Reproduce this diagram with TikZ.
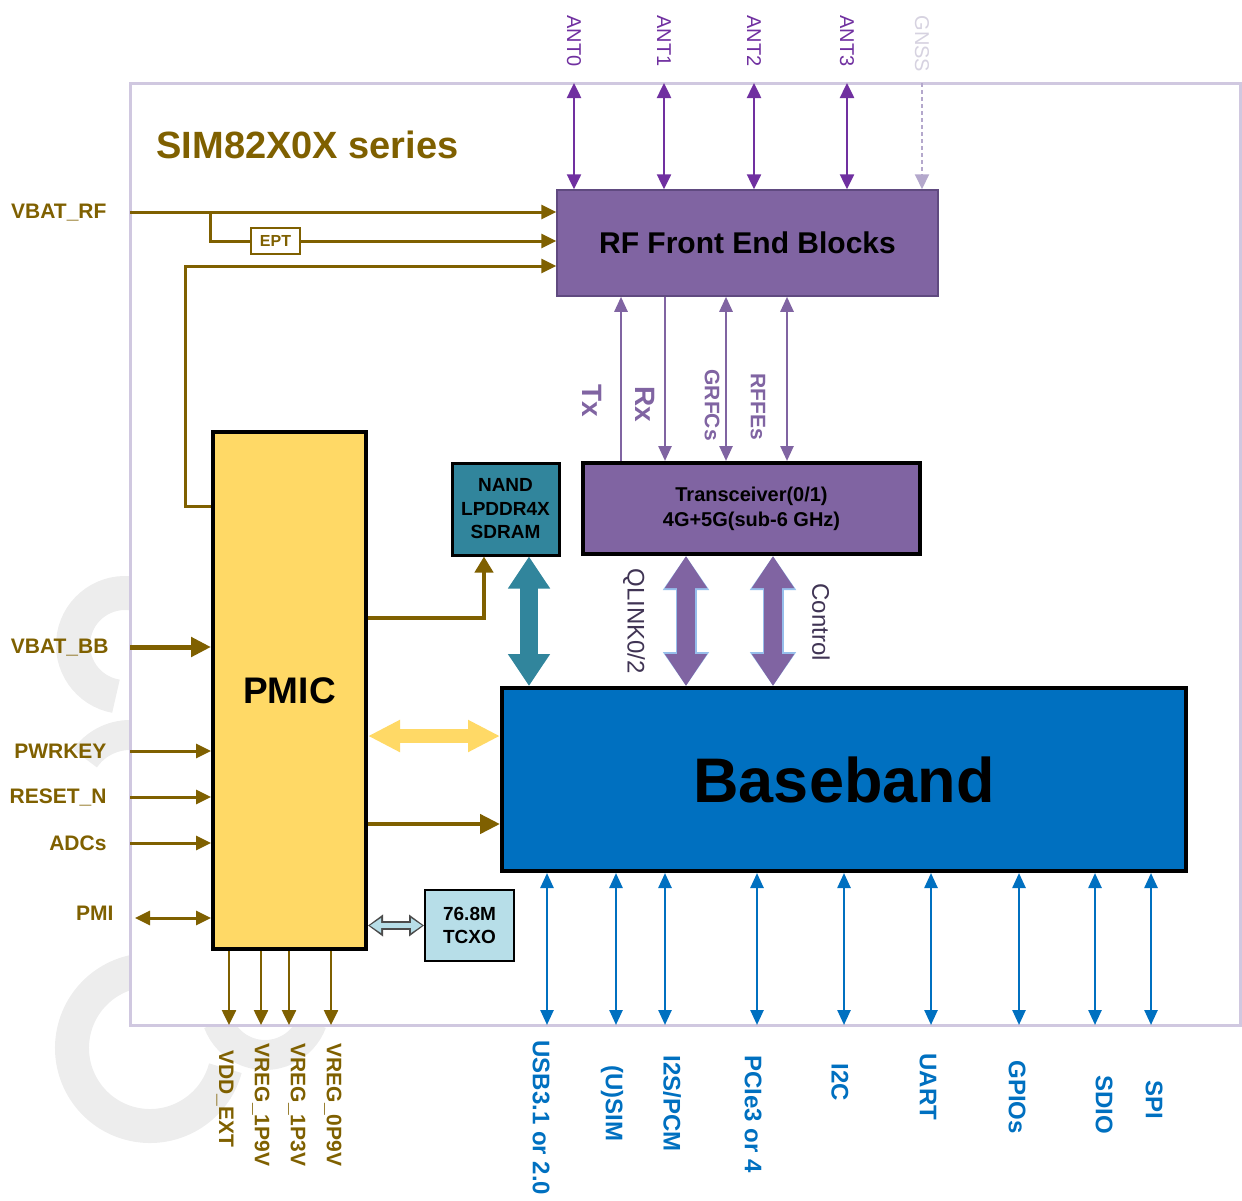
\documentclass[tikz,border=0pt]{standalone}
\usepackage{fontspec}
\setmainfont{Liberation Sans}
\usetikzlibrary{arrows.meta}

\definecolor{simbrown}{RGB}{127,96,0}
\definecolor{rfpurple}{RGB}{128,100,162}
\definecolor{rfedge}{RGB}{96,74,128}
\definecolor{antpurple}{RGB}{112,48,160}
\definecolor{gnssc}{RGB}{180,168,204}
\definecolor{gnsstext}{RGB}{214,210,224}
\definecolor{bbblue}{RGB}{0,112,192}
\definecolor{memteal}{RGB}{49,133,156}
\definecolor{pmicyellow}{RGB}{255,217,102}
\definecolor{tcxoblue}{RGB}{183,222,232}
\definecolor{framec}{RGB}{208,200,224}
\definecolor{linktext}{RGB}{64,52,84}
\definecolor{glow}{RGB}{150,190,235}

\tikzset{
  wmark/.style={draw=black!7, line width=34pt},
  chipframe/.style={draw=framec, line width=3pt, fill=white, inner sep=0pt},
  blk/.style={draw=black, line width=4pt, inner sep=0pt, align=center},
  pinlabel/.style={anchor=east, text=simbrown, font=\fontsize{21}{25}\selectfont\bfseries},
  outlabel/.style={rotate=-90, anchor=west, text=simbrown, font=\fontsize{21}{25}\selectfont\bfseries},
  iolabel/.style={rotate=-90, anchor=west, text=bbblue, font=\fontsize{24}{28}\selectfont\bfseries},
  antlabel/.style={rotate=-90, anchor=west, text=antpurple, font=\fontsize{20}{24}\selectfont},
  rflabel/.style={rotate=-90, anchor=west, text=rfpurple, font=\fontsize{21}{25}\selectfont\bfseries},
  linklabel/.style={rotate=-90, anchor=west, text=linktext, font=\fontsize{24}{28}\selectfont},
  antline/.style={draw=antpurple, line width=2.5pt, >={Triangle[length=15pt,width=14pt]}, <->},
  gnssline/.style={draw=gnssc, line width=2pt, dash pattern=on 4pt off 3pt, >={Triangle[length=15pt,width=14pt]}, ->},
  pwrline/.style={draw=simbrown, line width=3pt, >={Triangle[length=15pt,width=14pt]}, ->},
  pwrthick/.style={draw=simbrown, line width=4.5pt, >={Triangle[length=20pt,width=19pt]}, ->},
  rfline/.style={draw=rfpurple, line width=2.5pt, >={Triangle[length=15pt,width=13pt]}},
  ioline/.style={draw=bbblue, line width=2.5pt, >={Triangle[length=15pt,width=13pt]}, <->},
  fatarrow/.style={line width=18pt, >={Triangle[length=32pt,width=40pt]}, <->},
}

\begin{document}
\begin{tikzpicture}[x=1pt,y=-1pt]
\useasboundingbox (0,0) rectangle (1242,1200);

% logo behind the frame
\draw[wmark] (125,645) ++(100:52) arc[start angle=100, end angle=280, radius=52];
\draw[wmark, line width=30pt] (130,790) ++(215:55) arc[start angle=215, end angle=270, radius=55];
\draw[wmark] (150,1048) ++(15:78) arc[start angle=15, end angle=280, radius=78];
\draw[wmark, line width=30pt] (265,1005) ++(20:50) arc[start angle=20, end angle=160, radius=50];

\node[chipframe, minimum width=1110pt, minimum height=942pt] (chip) at (685,554) {};
\node[anchor=west, text=simbrown, font=\fontsize{38}{44}\selectfont\bfseries] (title) at (153,145) {SIM82X0X series};

% blocks
\node[blk, draw=rfedge, line width=1.5pt, fill=rfpurple, minimum width=381pt, minimum height=106pt,
      font=\fontsize{30}{34}\selectfont\bfseries] (rf) at (747.5,243) {RF Front End Blocks};
\node[blk, fill=rfpurple, minimum width=337pt, minimum height=91pt,
      font=\fontsize{20}{25}\selectfont\bfseries] (trx) at (751.5,508.5) {Transceiver(0/1)\\4G+5G(sub-6 GHz)};
\node[blk, line width=3pt, fill=memteal, minimum width=107pt, minimum height=92pt,
      font=\fontsize{19}{23.5}\selectfont\bfseries] (nand) at (505.5,509) {NAND\\LPDDR4X\\SDRAM};
\node[blk, fill=pmicyellow, minimum width=153pt, minimum height=517pt,
      font=\fontsize{37}{42}\selectfont\bfseries] (pmic) at (289.5,690.5) {PMIC};
\node[blk, fill=bbblue, minimum width=684pt, minimum height=183pt,
      font=\fontsize{63}{70}\selectfont\bfseries] (bb) at (844,779.5) {Baseband};
\node[blk, line width=2pt, fill=tcxoblue, minimum width=89pt, minimum height=71pt,
      font=\fontsize{19}{23}\selectfont\bfseries] (tcxo) at (469.5,925.5) {76.8M\\TCXO};
\node[blk, draw=simbrown, line width=1.5pt, fill=white, minimum width=49pt, minimum height=26pt,
      text=simbrown, font=\fontsize{16}{18}\selectfont\bfseries] (ept) at (275.5,241) {EPT};

% antennas
\foreach \x/\n in {574/0,664/1,754/2,847/3}{
  \coordinate (ant\n) at (\x,83);
  \draw[antline] (ant\n) -- (ant\n |- rf.north);
  \node[antlabel] (lant\n) at (\x,12) {ANT\n};
}
\coordinate (gnss) at (922,83);
\draw[gnssline] (gnss) -- (gnss |- rf.north);
\node[antlabel, text=gnsstext] (lgnss) at (922,12) {GNSS};

% RF supply
\node[pinlabel] (lvbatrf) at (110,213) {VBAT\_RF};
\coordinate (vbatrf) at (130,212);
\coordinate (split) at (210,212);
\draw[pwrline] (vbatrf) -- (vbatrf -| rf.west);
\draw[pwrline, -] (split) |- (ept.west);
\draw[pwrline] (ept.east) -- (ept -| rf.west);
\coordinate (bend) at (185,266);
\draw[pwrline] ([yshift=-76pt]pmic.north west) -| (bend) -- (bend -| rf.west);

% RF <-> transceiver
\coordinate (tx) at (621,0);
\coordinate (rx) at (665,0);
\coordinate (grfc) at (726,0);
\coordinate (rffe) at (787,0);
\draw[rfline, ->] (tx |- trx.north) -- (tx |- rf.south);
\draw[rfline, ->] (rx |- rf.south) -- (rx |- trx.north);
\draw[rfline, <->] (grfc |- rf.south) -- (grfc |- trx.north);
\draw[rfline, <->] (rffe |- rf.south) -- (rffe |- trx.north);
\node[rflabel, font=\fontsize{28}{32}\selectfont\bfseries] (ltx) at (592,381) {Tx};
\node[rflabel, font=\fontsize{28}{32}\selectfont\bfseries] (lrx) at (645,383) {Rx};
\node[rflabel] (lgrfc) at (712,366) {GRFCs};
\node[rflabel] (lrffe) at (758,370) {RFFEs};

% wide links to baseband
\coordinate (memlink) at (529,0);
\coordinate (qlink) at (686,0);
\coordinate (ctrl) at (773,0);
\draw[fatarrow, draw=memteal, fill=memteal] (memlink |- nand.south) -- (memlink |- bb.north);
\foreach \c in {qlink,ctrl}{
  \draw[fatarrow, line width=21pt, >={Triangle[length=34pt,width=44pt]}, draw=glow, fill=glow] (\c |- trx.south) -- (\c |- bb.north);
  \draw[fatarrow, draw=rfpurple, fill=rfpurple] (\c |- trx.south) -- (\c |- bb.north);
}
\node[linklabel] (lqlink) at (634,565) {QLINK0/2};
\node[linklabel] (lctrl) at (821,580) {Control};

% PMIC outputs to right
\coordinate (pwrbus) at (0,736);
\draw[fatarrow, line width=14pt, >={Triangle[length=32pt,width=30pt]}, draw=pmicyellow, fill=pmicyellow]
  (pmic.east |- pwrbus) -- (bb.west |- pwrbus);
\coordinate (memsup) at (0,618);
\coordinate (nandin) at (484,0);
\draw[pwrthick, line width=4pt, >={Triangle[length=16pt,width=18pt]}] (pmic.east |- memsup) -| (nandin |- nand.south);
\coordinate (bbsup) at (0,824);
\draw[pwrthick] (pmic.east |- bbsup) -- (bb.west |- bbsup);
\draw[line width=9pt, draw=black!70, >={Triangle[length=15pt,width=21pt]}, <->] (pmic.east |- tcxo) -- (tcxo.west);
\draw[line width=5pt, draw=tcxoblue, >={Triangle[length=11pt,width=14pt]}, <->] ([xshift=2pt]pmic.east |- tcxo) -- ([xshift=-2pt]tcxo.west);

% PMIC inputs
\node[pinlabel] (lvbatbb) at (112,648) {VBAT\_BB};
\coordinate (vbatbb) at (130,647);
\draw[pwrthick, line width=5pt] (vbatbb) -- (vbatbb -| pmic.west);
\foreach \y/\t/\n in {751/PWRKEY/pwrkey,797/RESET\_N/reset,843/ADCs/adc}{
  \coordinate (\n) at (130,\y);
  \node[pinlabel] (l\n) at (110,\y) {\t};
  \draw[pwrline] (\n) -- (\n -| pmic.west);
}
\node[pinlabel] (lpmi) at (117,913) {PMI};
\coordinate (pmi) at (135,918);
\draw[pwrline, <->] (pmi) -- (pmi -| pmic.west);

% PMIC supplies out
\foreach \x/\lx/\ly/\t/\n in {229/225/1047/VDD\_EXT/vdd,261/261/1040/VREG\_1P9V/vone,
                             289/297/1040/VREG\_1P3V/vtwo,331/333/1040/VREG\_0P9V/vthree}{
  \coordinate (\n) at (\x,1025);
  \draw[pwrline, line width=2.5pt] (\n |- pmic.south) -- (\n);
  \node[outlabel] (l\n) at (\lx,\ly) {\t};
}

% baseband interfaces
\foreach \x/\lx/\ly/\t/\n in {547/541/1037/{USB3.1 or 2.0}/usb,616/612/1062/{(U)SIM}/sim,
    665/672/1052/{I2S/PCM}/pcm,757/753/1052/{PCIe3 or 4}/pcie,844/840/1060/{I2C}/itwoc,
    931/928/1050/{UART}/uart,1019/1017/1057/{GPIOs}/gpio,1095/1104/1072/{SDIO}/sdio,1151/1154/1077/{SPI}/spi}{
  \coordinate (\n) at (\x,1025);
  \draw[ioline] (\n |- bb.south) -- (\n);
  \node[iolabel] (l\n) at (\lx,\ly) {\t};
}
\end{tikzpicture}
\end{document}
